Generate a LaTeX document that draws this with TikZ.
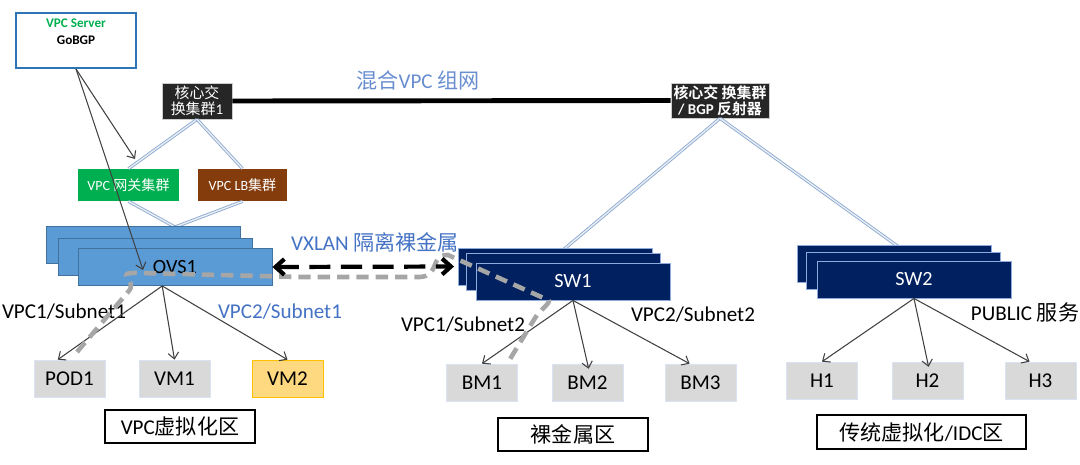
\documentclass[tikz,border=0pt]{standalone}
\usepackage{fontspec}
\setmainfont{Carlito}
\newfontfamily\cjk{Noto Sans CJK SC}[BoldFont={Noto Sans CJK SC Bold}]
\usetikzlibrary{arrows.meta,calc}
\definecolor{ovsblue}{HTML}{5B9BD5}
\definecolor{ovsline}{HTML}{41719C}
\definecolor{swnavy}{HTML}{002060}
\definecolor{swline}{HTML}{8FAADC}
\definecolor{gwgreen}{HTML}{00B050}
\definecolor{lbbrown}{HTML}{843C0C}
\definecolor{leafgray}{HTML}{D9D9D9}
\definecolor{leafline}{HTML}{DAE3F3}
\definecolor{vmorange}{HTML}{FFD97F}
\definecolor{vmline}{HTML}{FFC000}
\definecolor{txtblue}{HTML}{4472C4}
\definecolor{linkblue}{HTML}{8EA9CF}
\definecolor{srvblue}{HTML}{2E75B6}
\begin{document}
\begin{tikzpicture}[x=0.02cm, y=-0.02cm,
    box/.style = {inner sep=0pt, align=center},
    ovs/.style = {box, draw=ovsline, fill=ovsblue, line width=0.5pt, minimum width=3.88cm, minimum height=0.74cm, font=\fontsize{11.5}{13}\selectfont},
    sw/.style = {box, draw=swline, fill=swnavy, line width=0.5pt, minimum width=3.88cm, minimum height=0.74cm, text=white, font=\fontsize{11.5}{13}\selectfont},
    leaf/.style = {box, draw=leafline, fill=leafgray, minimum width=1.42cm, minimum height=0.74cm, font=\fontsize{12}{14}\selectfont},
    area/.style = {box, draw=black, line width=0.6pt, minimum width=3cm, minimum height=0.66cm, font=\fontsize{12}{14}\selectfont},
    core/.style = {box, draw=black!20, fill=black!85, text=white, minimum height=0.72cm, font=\fontsize{8.5}{9}\selectfont},
    cluster/.style = {box, text=white, minimum height=0.64cm, font=\fontsize{8}{10}\selectfont},
    lbl/.style = {inner sep=0pt, font=\fontsize{12}{14}\selectfont},
    link/.style = {draw=linkblue, double=white!80!linkblue, double distance=0.8pt, line width=0.5pt},
    arr/.style = {-{Straight Barb[length=3.5pt,width=6pt]}, draw=black!75, line width=0.6pt}]

    \useasboundingbox (0,0) rectangle (1080,464);

    \node[box, draw=srvblue, line width=1.1pt, minimum width=2.4cm, minimum height=1.1cm, font=\bfseries\fontsize{7.5}{9.6}\selectfont] (srv) at (76,40.5) {{\color{gwgreen}VPC Server}\\GoBGP\\\mbox{}};
    \node[core, minimum width=1.4cm] (core1) at (197,101) {{\cjk 核心交}\\{\cjk 换集群}1};
    \node[core, minimum width=1.96cm, minimum height=0.7cm, font=\bfseries\fontsize{8.5}{9}\selectfont] (core2) at (720,100.5) {{\cjk\bfseries 核心交 换集群}\\/ BGP {\cjk\bfseries 反射器}};
    \node[lbl, text=txtblue!80] (mix) at (418,80) {{\cjk 混合}VPC {\cjk 组网}};

    \node[cluster, fill=gwgreen, minimum width=2.02cm] (gw) at (128.5,185) {VPC {\cjk 网关集群}};
    \node[cluster, fill=lbbrown, minimum width=1.78cm] (lb) at (242.5,185) {VPC LB{\cjk 集群}};

    \coordinate (v) at (175,227);
    \draw[black, line width=2.8pt] (core1.east) -- (core2.west);
    \draw[link] (core1.south) -- (gw.north);
    \draw[link] (core1.south) -- (lb.north);
    \draw[link] (gw.south) -- (v);
    \draw[link] (lb.south) -- (v);
    \draw[link] (core2.south) -- (563,250);
    \draw[link] (core2.south) -- (903,250);

    \node[ovs] (ovs1) at (143,244.5) {};
    \node[ovs] (ovs2) at (155,256.5) {};
    \node[ovs] (ovs3) at (175,267) {OVS1};
    \node[sw] (sw11) at (555,266.5) {};
    \node[sw] (sw12) at (563,271.5) {};
    \node[sw] (sw13) at (573,281.5) {SW1};
    \node[sw] (sw21) at (894,263.5) {};
    \node[sw] (sw22) at (903,270.5) {};
    \node[sw] (sw23) at (914,279.5) {SW2};

    \node[leaf] (pod1) at (69.5,378.5) {POD1};
    \node[leaf] (vm1) at (174.5,378.5) {VM1};
    \node[leaf, draw=vmline, fill=vmorange] (vm2) at (287.5,378.5) {VM2};
    \node[leaf] (bm1) at (482,382.5) {BM1};
    \node[leaf] (bm2) at (587.5,382.5) {BM2};
    \node[leaf] (bm3) at (700.5,382.5) {BM3};
    \node[leaf] (h1) at (822,380.5) {H1};
    \node[leaf] (h2) at (927.5,380.5) {H2};
    \node[leaf] (h3) at (1040.5,380.5) {H3};

    \node[area] (zone1) at (180,426.5) {VPC{\cjk 虚拟化区}};
    \node[area] (zone2) at (573,434.5) {{\cjk 裸金属区}};
    \node[area, minimum width=4.18cm, minimum height=0.68cm] (zone3) at (921.5,432) {{\cjk 传统虚拟化}/IDC{\cjk 区}};

    \node[lbl] (sub11) at (64,312) {VPC1/Subnet1};
    \node[lbl, text=txtblue] (sub21) at (280,312) {VPC2/Subnet1};
    \node[lbl] (sub12) at (463,325) {VPC1/Subnet2};
    \node[lbl] (sub22) at (693,315) {VPC2/Subnet2};
    \node[lbl] (pub) at (1025,312) {PUBLIC {\cjk 服务}};
    \node[lbl, text=txtblue] (vx) at (375,242) {VXLAN {\cjk 隔离裸金属}};

    \coordinate (t1) at (135,159);
    \coordinate (t2) at (143,270);
    \draw[arr] (srv.south) -- (t1);
    \draw[arr] (srv.south) -- (t2);

    \draw[arr] (ovs3.236) -- (pod1.122);
    \draw[arr] (ovs3.236) -- (vm1.north);
    \draw[arr] (ovs3.236) -- (vm2.north);
    \draw[arr] (sw13.south) -- (bm1.north);
    \draw[arr, shorten >=-3pt] (sw13.south) -- (bm2.north);
    \draw[arr] (sw13.south) -- (bm3.120);
    \draw[arr] (sw23.south) -- (h1.north);
    \draw[arr, shorten >=-3pt] (sw23.south) -- (h2.north);
    \draw[arr] (sw23.south) -- (h3.120);

    \draw[black!35, line width=2.6pt, dash pattern=on 7pt off 4pt]
        (77,352) -- (128,292) .. controls (140,280) and (110,272) .. (140,273)
        -- (300,277) -- (420,277) .. controls (440,276) and (430,254) .. (448,255)
        -- (548,300) .. controls (552,302) and (540,310) .. (535,318) -- (507,364);
    \draw[black, line width=2.4pt, dash pattern=on 12pt off 6pt,
        {Straight Barb[length=5pt,width=9pt]}-{Straight Barb[length=5pt,width=9pt]}, shorten >=2pt]
        (ovs3.east) -- (sw11.west);
\end{tikzpicture}
\end{document}
